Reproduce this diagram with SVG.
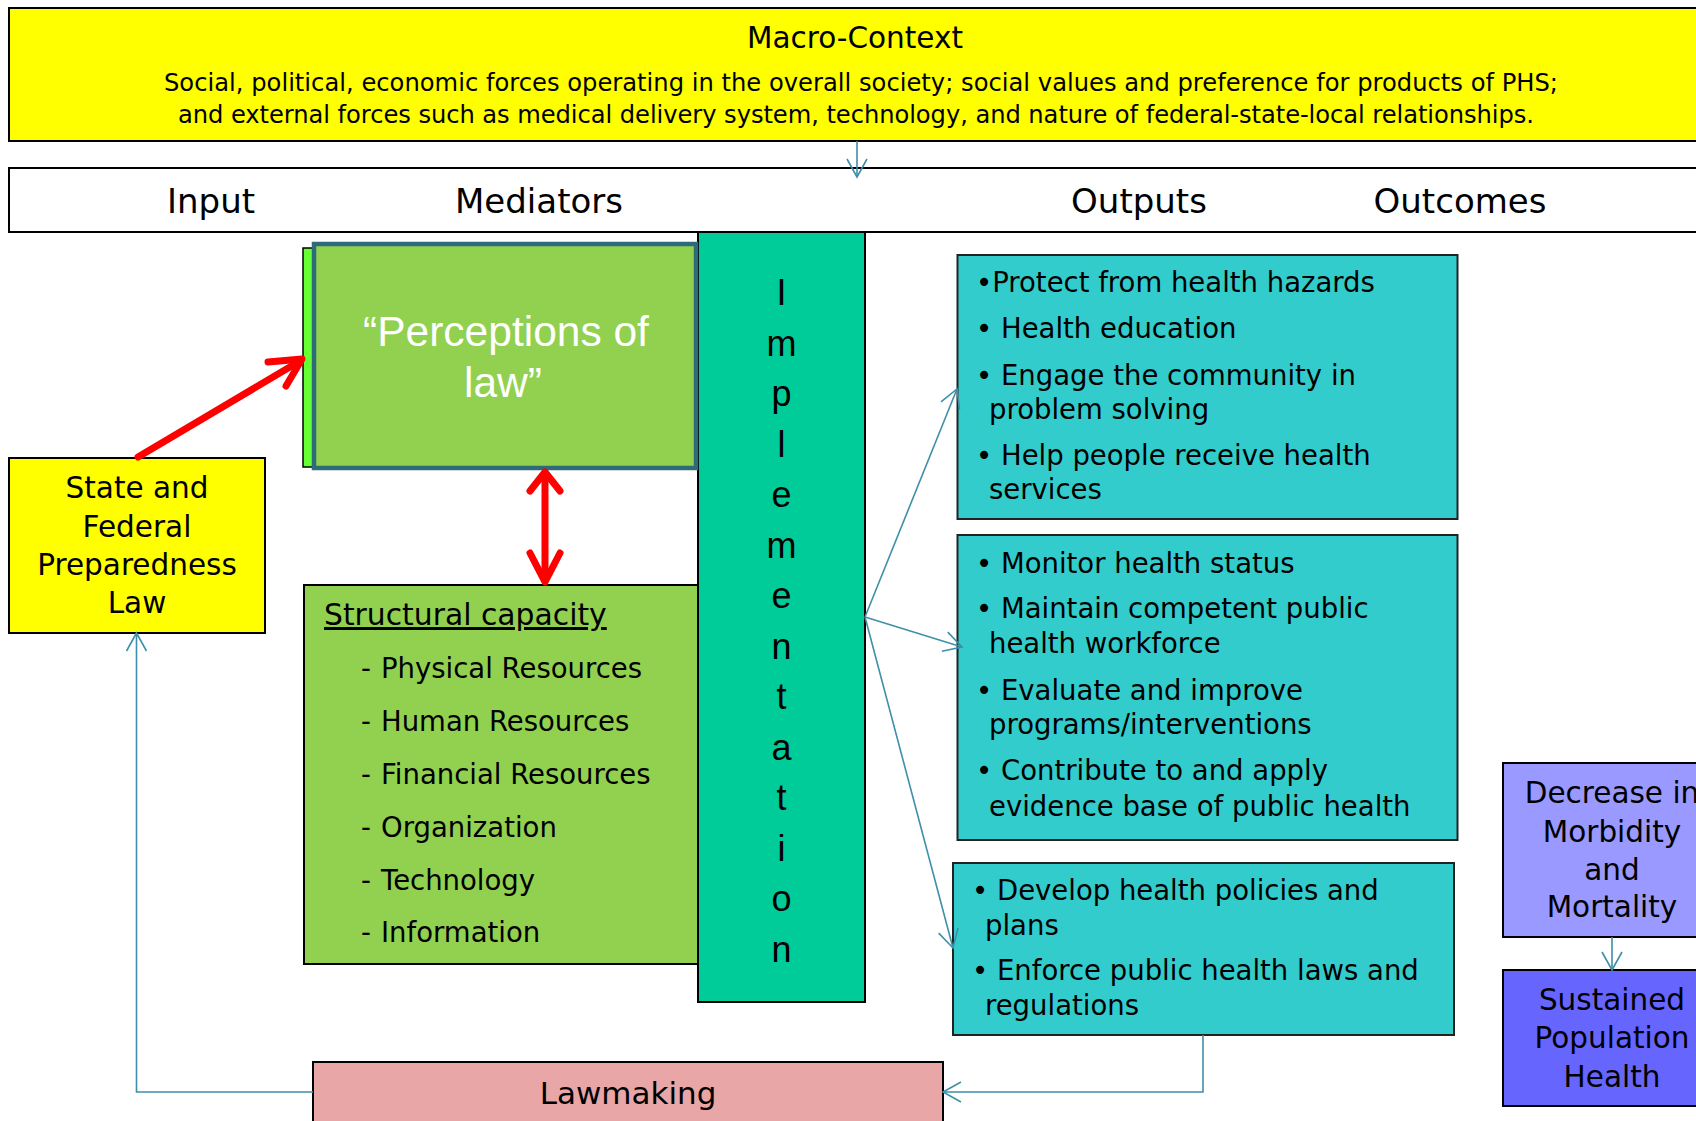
<svg xmlns="http://www.w3.org/2000/svg" width="1696" height="1121" viewBox="0 0 1696 1121">
<style>
  .box { stroke: #000; stroke-width: 2; }
  .t { font-family: "DejaVu Sans", "Liberation Sans", sans-serif; fill: #000; }
  .hdr { font-size: 34px; text-anchor: middle; }
  .mid { text-anchor: middle; }
  .item { font-size: 27.5px; }
  .out { font-size: 27.5px; }
  .impl { font-family: "Liberation Sans", Arial, sans-serif; font-size: 36px; text-anchor: middle; fill: #000; }
  .conn { fill: none; stroke: #3E8FAA; stroke-width: 1.6; }
  .red { fill: none; stroke: #FF0000; stroke-width: 7; stroke-linecap: round; stroke-linejoin: round; }
</style>
<defs>
  <marker id="arr" markerUnits="userSpaceOnUse" markerWidth="22" markerHeight="24" viewBox="0 0 22 24" refX="20" refY="12" orient="auto">
    <path d="M2,2 L20,12 L2,22" fill="none" stroke="#3E8FAA" stroke-width="1.6"/>
  </marker>
</defs>
<rect x="0" y="0" width="1696" height="1121" fill="#FFFFFF"/>

<g id="macro-context">
  <rect class="box" x="9" y="8" width="1700" height="133" fill="#FFFF00"/>
  <text class="t mid" x="855" y="48" font-size="29.5">Macro-Context</text>
  <text class="t mid" x="861" y="91" font-size="24.2" textLength="1394" lengthAdjust="spacing">Social, political, economic forces operating in the overall society; social values and preference for products of PHS;</text>
  <text class="t mid" x="856" y="123" font-size="24.2" textLength="1356" lengthAdjust="spacing">and external forces such as medical delivery system, technology, and nature of federal-state-local relationships.</text>
</g>

<g id="header">
  <rect class="box" x="9" y="168" width="1700" height="64" fill="#FFFFFF"/>
  <text class="t hdr" x="211" y="213">Input</text>
  <text class="t hdr" x="539" y="213">Mediators</text>
  <text class="t hdr" x="1139" y="213">Outputs</text>
  <text class="t hdr" x="1460" y="213">Outcomes</text>
</g>

<g id="state-federal-law">
  <rect class="box" x="9" y="458" width="256" height="175" fill="#FFFF00"/>
  <text class="t mid" x="137" y="498" font-size="29.5">State and</text>
  <text class="t mid" x="137" y="537" font-size="29.5">Federal</text>
  <text class="t mid" x="137" y="575" font-size="29.5">Preparedness</text>
  <text class="t mid" x="137" y="613" font-size="29.5">Law</text>
</g>

<g id="implementation">
  <rect class="box" x="698" y="232" width="167" height="770" fill="#00CC99"/>
  <text class="impl" x="781.5" y="305">I</text>
  <text class="impl" x="781.5" y="355.5">m</text>
  <text class="impl" x="781.5" y="406">p</text>
  <text class="impl" x="781.5" y="456.5">l</text>
  <text class="impl" x="781.5" y="507">e</text>
  <text class="impl" x="781.5" y="557.5">m</text>
  <text class="impl" x="781.5" y="608">e</text>
  <text class="impl" x="781.5" y="658.5">n</text>
  <text class="impl" x="781.5" y="709">t</text>
  <text class="impl" x="781.5" y="759.5">a</text>
  <text class="impl" x="781.5" y="810">t</text>
  <text class="impl" x="781.5" y="860.5">i</text>
  <text class="impl" x="781.5" y="911">o</text>
  <text class="impl" x="781.5" y="961.5">n</text>
</g>

<g id="perceptions-of-law">
  <rect x="303" y="248" width="390" height="219" fill="#66FF33" stroke="#000" stroke-width="1.5"/>
  <rect x="314" y="244" width="382" height="224" fill="#92D050" stroke="#2E6B7A" stroke-width="4.5"/>
  <text x="506" y="346" font-family="Liberation Sans, Arial, sans-serif" font-size="42.5" fill="#FFFFFF" text-anchor="middle">“Perceptions of</text>
  <text x="503" y="397" font-family="Liberation Sans, Arial, sans-serif" font-size="42.5" fill="#FFFFFF" text-anchor="middle">law”</text>
</g>

<g id="structural-capacity">
  <rect class="box" x="304" y="585" width="394" height="379" fill="#92D050"/>
  <text class="t" x="324" y="625" font-size="29.8" text-decoration="underline">Structural capacity</text>
  <text class="t item" x="361" y="678">-<tspan x="381">Physical Resources</tspan></text>
  <text class="t item" x="361" y="731">-<tspan x="381">Human Resources</tspan></text>
  <text class="t item" x="361" y="784">-<tspan x="381">Financial Resources</tspan></text>
  <text class="t item" x="361" y="837">-<tspan x="381">Organization</tspan></text>
  <text class="t item" x="361" y="890">-<tspan x="381">Technology</tspan></text>
  <text class="t item" x="361" y="942">-<tspan x="381">Information</tspan></text>
</g>

<g id="outputs-1">
  <rect x="957.5" y="255" width="500" height="264" fill="#33CCCC" stroke="#222" stroke-width="2"/>
  <text class="t out" x="976" y="292">•Protect from health hazards</text>
  <text class="t out" x="976" y="338">• Health education</text>
  <text class="t out" x="976" y="385">• Engage the community in</text>
  <text class="t out" x="989" y="419">problem solving</text>
  <text class="t out" x="976" y="465">• Help people receive health</text>
  <text class="t out" x="989" y="499">services</text>
</g>

<g id="outputs-2">
  <rect x="957.5" y="535" width="500" height="305" fill="#33CCCC" stroke="#222" stroke-width="2"/>
  <text class="t out" x="976" y="573">• Monitor health status</text>
  <text class="t out" x="976" y="618">• Maintain competent public</text>
  <text class="t out" x="989" y="653">health workforce</text>
  <text class="t out" x="976" y="700">• Evaluate and improve</text>
  <text class="t out" x="989" y="734">programs/interventions</text>
  <text class="t out" x="976" y="780">• Contribute to and apply</text>
  <text class="t out" x="989" y="816">evidence base of public health</text>
</g>

<g id="outputs-3">
  <rect x="953" y="863" width="501" height="172" fill="#33CCCC" stroke="#222" stroke-width="2"/>
  <text class="t out" x="972" y="900">• Develop health policies and</text>
  <text class="t out" x="985" y="935">plans</text>
  <text class="t out" x="972" y="980">• Enforce public health laws and</text>
  <text class="t out" x="985" y="1015">regulations</text>
</g>

<g id="decrease-morbidity-mortality">
  <rect class="box" x="1503" y="763" width="210" height="174" fill="#9999FF"/>
  <text class="t mid" x="1612" y="803" font-size="29.5">Decrease in</text>
  <text class="t mid" x="1612" y="842" font-size="29.5">Morbidity</text>
  <text class="t mid" x="1612" y="880" font-size="29.5">and</text>
  <text class="t mid" x="1612" y="917" font-size="29.5">Mortality</text>
</g>

<g id="sustained-population-health">
  <rect class="box" x="1503" y="970" width="210" height="136" fill="#6666FF"/>
  <text class="t mid" x="1612" y="1010" font-size="29.5">Sustained</text>
  <text class="t mid" x="1612" y="1048" font-size="29.5">Population</text>
  <text class="t mid" x="1612" y="1087" font-size="29.5">Health</text>
</g>

<g id="lawmaking">
  <rect class="box" x="313" y="1062" width="630" height="70" fill="#E8A6A6"/>
  <text class="t mid" x="628" y="1104" font-size="31">Lawmaking</text>
</g>

<g id="connectors">
  <path class="conn" d="M857,141 L857,177" marker-end="url(#arr)"/>
  <path class="conn" d="M865,617 L957,389" marker-end="url(#arr)"/>
  <path class="conn" d="M865,617 L962,647" marker-end="url(#arr)"/>
  <path class="conn" d="M865,617 L953,948" marker-end="url(#arr)"/>
  <path class="conn" d="M1203,1035 L1203,1092 L943,1092" marker-end="url(#arr)"/>
  <path class="conn" d="M313,1092 L136.5,1092 L136.5,633" marker-end="url(#arr)"/>
  <path class="conn" d="M1612,937 L1612,970" marker-end="url(#arr)"/>
  <path class="red" d="M138,457 L300,361"/>
  <path class="red" d="M268,362 L302,359 L286,386"/>
  <path class="red" d="M545,474 L545,580"/>
  <path class="red" d="M530,491 L545,472 L560,491"/>
  <path class="red" d="M530,553 L545,582 L560,553"/>
</g>
</svg>
